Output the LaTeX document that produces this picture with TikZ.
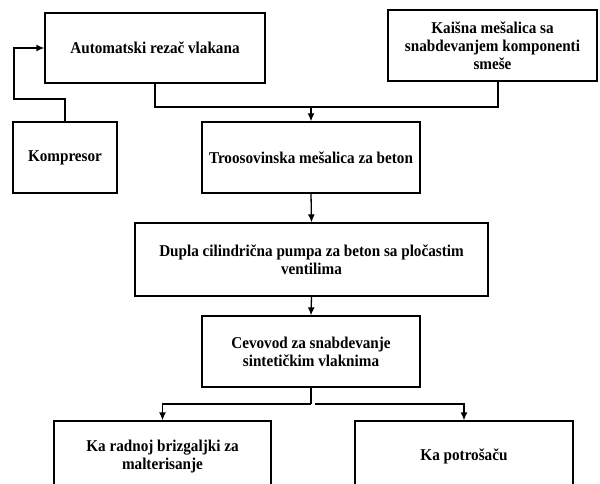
\documentclass[tikz,border=0pt]{standalone}
\usepackage{fontspec}
\setmainfont{Liberation Serif}[FakeStretch=0.92]
\usetikzlibrary{arrows.meta,calc}
\begin{document}
\begin{tikzpicture}[x=1pt,y=-1pt,
  box/.style={draw,line width=1.3pt,inner sep=0pt,align=center,
    font=\bfseries\fontsize{16.5}{18}\selectfont},
  link/.style={line width=1.3pt},
  arr/.style={link,-{Latex[length=8pt,width=7pt]}}]
\clip (0,0) rectangle (600,484);
\fill[white] (0,0) rectangle (600,484);
% blocks of the process chain
\node[box,minimum width=220pt,minimum height=70pt] (a) at (155,48) {Automatski rezač vlakana};
\node[box,minimum width=209pt,minimum height=71pt] (k) at (492.5,45.5) {Kaišna mešalica sa\\snabdevanjem komponenti\\smeše};
\node[box,minimum width=104pt,minimum height=71pt] (p) at (65,157.5) {Kompresor};
\node[box,minimum width=218pt,minimum height=71pt] (t) at (311,157.5) {Troosovinska mešalica za beton};
\node[box,minimum width=353pt,minimum height=73pt] (d) at (311.5,259.5) {Dupla cilindrična pumpa za beton sa pločastim\\ventilima};
\node[box,minimum width=218pt,minimum height=71pt] (c) at (311,351.5) {Cevovod za snabdevanje\\sintetičkim vlaknima};
\node[box,minimum width=217pt,minimum height=71pt] (l) at (162.5,456.5) {Ka radnoj brizgaljki za\\malterisanje};
\node[box,minimum width=218pt,minimum height=71pt] (r) at (464,456.5) {Ka potrošaču};
% junction points
\coordinate (pk) at (14,99);
\coordinate (j1) at (311,107);
\coordinate (j2) at (311,404);
% compressor feeds the cutter
\draw[arr] (p.north) -- (p.north |- pk) -- (pk) |- (a.west);
% cutter and belt mixer feed the three-axle mixer
\draw[link] (a.south) |- (j1);
\draw[link] ([xshift=5.5pt]k.south) |- (j1);
\draw[arr] (j1) -- (t.north);
\draw[arr] (t.south) -- (d.north);
\draw[arr] (d.south) -- (c.north);
% pipeline branches to the two outlets
\draw[link] (c.south) -- (j2);
\draw[arr] (j2) -| (l.north);
\draw[arr] ([xshift=4pt]j2) -| (r.north);
\end{tikzpicture}
\end{document}
